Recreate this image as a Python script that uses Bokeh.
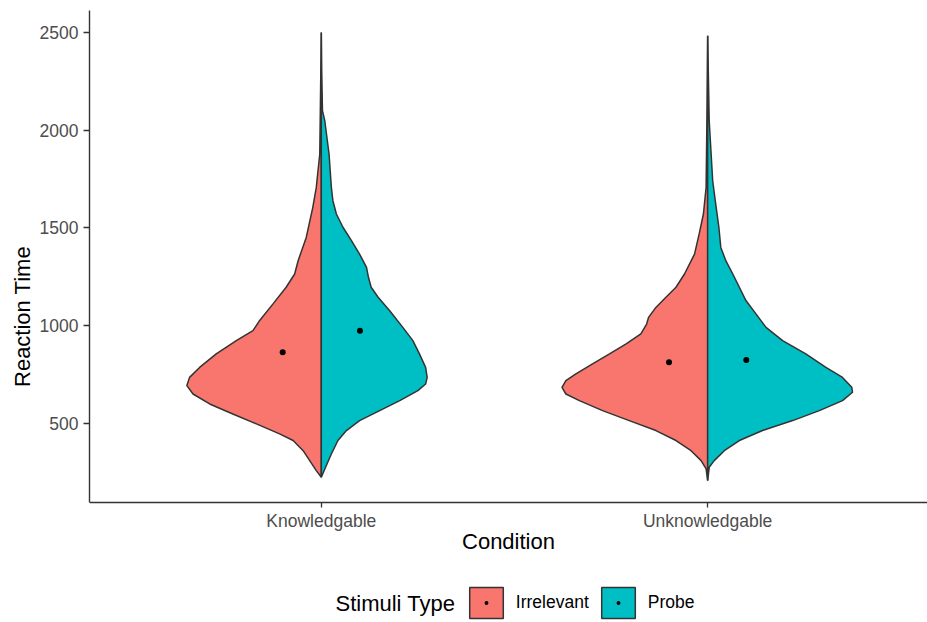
from bokeh.plotting import figure
from bokeh.models import Range1d, FixedTicker, Legend, LegendItem, Label
from bokeh.embed import file_html
from bokeh.resources import INLINE

# ---------------- data ----------------
conditions = ["Knowledgable", "Unknowledgable"]
stimuli = ["Irrelevant", "Probe"]
fill_colors = ["#F8766D", "#00BFC4"]
y_ticks = [500, 1000, 1500, 2000, 2500]

# half-violin outlines: reaction time vs scaled density (half width, in category units)
k_irr_rt = [2500, 1878, 1707, 1605, 1451, 1332, 1264, 1196, 1111, 1025, 974, 923, 855, 786,
            735, 693, 650, 599, 548, 497, 446, 412, 360, 309, 258, 224]
k_irr_w = [0, 0.004, 0.013, 0.022, 0.039, 0.060, 0.069, 0.091, 0.125, 0.160, 0.177, 0.220,
           0.272, 0.315, 0.341, 0.348, 0.332, 0.289, 0.229, 0.168, 0.108, 0.073, 0.047,
           0.030, 0.013, 0]

k_prb_rt = [2500, 2304, 2099, 2048, 1878, 1707, 1639, 1571, 1503, 1435, 1366, 1298, 1247,
            1196, 1145, 1076, 991, 923, 855, 786, 735, 701, 667, 616, 565, 514, 463, 412,
            343, 275, 224]
k_prb_w = [0, 0.001, 0.003, 0.009, 0.020, 0.026, 0.030, 0.039, 0.056, 0.078, 0.099, 0.117,
           0.122, 0.129, 0.147, 0.177, 0.211, 0.237, 0.254, 0.270, 0.274, 0.270, 0.250,
           0.203, 0.151, 0.099, 0.065, 0.043, 0.026, 0.011, 0]

u_irr_rt = [2483, 2048, 1707, 1571, 1469, 1366, 1264, 1196, 1145, 1093, 1042, 1008, 957,
            906, 855, 804, 753, 718, 684, 650, 616, 565, 514, 463, 412, 360, 309, 267, 207]
u_irr_w = [0, 0.002, 0.004, 0.011, 0.022, 0.034, 0.060, 0.082, 0.108, 0.134, 0.153, 0.158,
           0.173, 0.211, 0.254, 0.298, 0.341, 0.367, 0.377, 0.367, 0.332, 0.272, 0.203,
           0.134, 0.082, 0.043, 0.017, 0.004, 0]

u_prb_rt = [2483, 2048, 1878, 1741, 1605, 1503, 1400, 1332, 1264, 1196, 1128, 1060, 991,
            923, 855, 786, 735, 684, 659, 616, 565, 514, 463, 412, 360, 309, 275, 207]
u_prb_w = [0, 0.004, 0.009, 0.013, 0.022, 0.029, 0.034, 0.047, 0.065, 0.082, 0.099, 0.125,
           0.151, 0.194, 0.254, 0.306, 0.349, 0.373, 0.375, 0.349, 0.289, 0.220, 0.142,
           0.082, 0.043, 0.017, 0.004, 0]

mean_irrelevant = [863, 812]
mean_probe = [974, 824]
dodge = 0.1

# axis extents (data units)
x_lo, x_hi = 0.4, 2.6
y_lo, y_hi = 95, 2612

FONT = "Liberation Sans"
LINE = "#333333"

# ---------------- figure ----------------
# the frame reaches the bottom of the canvas so that the legend (drawn in the frame)
# is not clipped; the x axis is pinned at the bottom of the data area.
p = figure(width=927, height=622, output_backend="svg", toolbar_location=None,
           x_range=Range1d(0.4, 2.569), y_range=Range1d(-519, y_hi),
           min_border_left=89, min_border_right=0, min_border_top=10,
           min_border_bottom=0)
p.outline_line_color = None
p.xgrid.visible = False
p.ygrid.visible = False

halves = {
    ("Knowledgable", "Irrelevant"): (k_irr_rt, k_irr_w),
    ("Knowledgable", "Probe"): (k_prb_rt, k_prb_w),
    ("Unknowledgable", "Irrelevant"): (u_irr_rt, u_irr_w),
    ("Unknowledgable", "Probe"): (u_prb_rt, u_prb_w),
}

patch_r = {}
for (cond, stim), (rt, w) in halves.items():
    c = conditions.index(cond) + 1
    side = -1 if stim == "Irrelevant" else 1
    xs = [c + side * wi for wi in w]
    col = fill_colors[stimuli.index(stim)]
    r = p.patch(xs, rt, fill_color=col, line_color=LINE, line_width=1.5)
    patch_r.setdefault(stim, r)

cx = [conditions.index(c) + 1 for c in conditions]
dot_irr = p.scatter([x - dodge for x in cx], mean_irrelevant, marker="dot", size=24,
                    line_color="black", fill_color="black")
dot_prb = p.scatter([x + dodge for x in cx], mean_probe, marker="dot", size=24,
                    line_color="black", fill_color="black")

# ---------------- axes ----------------
for ax in (p.xaxis[0], p.yaxis[0]):
    ax.axis_line_color = LINE
    ax.axis_line_width = 1.4
    ax.major_tick_line_color = LINE
    ax.major_tick_line_width = 1.3
    ax.major_tick_in = 0
    ax.minor_tick_line_color = None
    ax.major_label_text_font = FONT
    ax.major_label_text_font_size = "17.5px"
    ax.major_label_text_color = "#4D4D4D"
    ax.axis_label_text_font = FONT
    ax.axis_label_text_font_size = "22px"
    ax.axis_label_text_font_style = "normal"
    ax.axis_label_text_color = "black"

p.xaxis.ticker = FixedTicker(ticks=cx)
p.xaxis.major_label_overrides = {i + 1: c for i, c in enumerate(conditions)}
p.xaxis.axis_label = "Condition"
p.xaxis.fixed_location = y_lo
p.xaxis.bounds = (x_lo, x_hi)
p.xaxis.major_tick_out = 5
p.xaxis.major_label_standoff = 4
p.xaxis.axis_label_standoff = -6

p.yaxis.ticker = FixedTicker(ticks=y_ticks)
p.yaxis.axis_label = "Reaction Time"
p.yaxis.bounds = (y_lo, y_hi)
p.yaxis.major_tick_out = 6
p.yaxis.major_label_standoff = 5
p.yaxis.axis_label_standoff = 2

# ---------------- legend ----------------
items = [LegendItem(label=s, renderers=[patch_r[s], d])
         for s, d in zip(stimuli, [dot_irr, dot_prb])]
legend = Legend(items=items, orientation="horizontal", location=(375.8, 0),
                glyph_width=42, glyph_height=39, label_standoff=9, spacing=8,
                padding=0, margin=0, border_line_color=None, background_fill_alpha=0,
                label_text_font=FONT, label_text_font_size="17.5px",
                label_text_color="black")
p.add_layout(legend)

title = Label(x=246, y=19, x_units="screen", y_units="screen", text="Stimuli Type",
              text_font=FONT, text_font_size="22px", text_baseline="middle",
              text_align="left", text_color="black")
p.add_layout(title)

open("out.html", "w").write(file_html(p, INLINE))
